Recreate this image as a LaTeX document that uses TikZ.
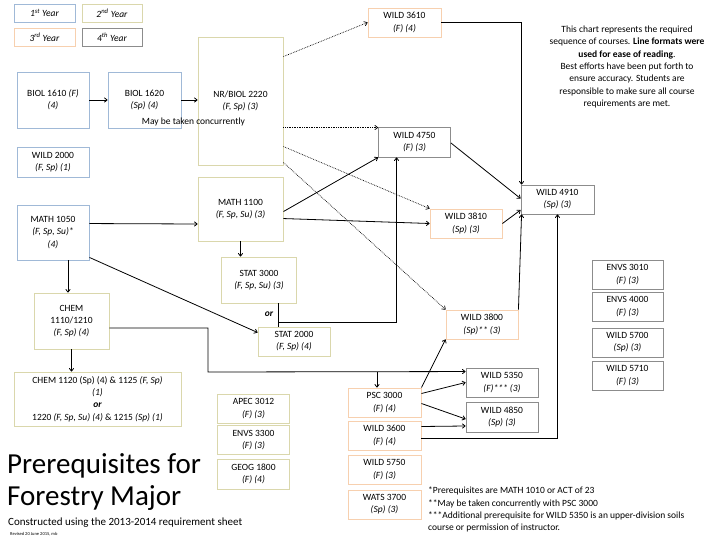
\documentclass[tikz,border=0pt]{standalone}
\usepackage{fontspec}
\setmainfont{Carlito}
\usetikzlibrary{calc,arrows.meta}
\definecolor{cone}{RGB}{160,185,215}
\definecolor{ctwo}{RGB}{218,215,172}
\definecolor{cthree}{RGB}{247,208,175}
\definecolor{cfour}{RGB}{140,140,140}
\begin{document}
\begin{tikzpicture}[x=1pt,y=-1pt,
  base/.style={draw, line width=0.9pt, inner sep=0pt, align=center,
    font=\fontsize{9.5}{12.3}\selectfont},
  yone/.style={base, draw=cone},
  ytwo/.style={base, draw=ctwo},
  ythree/.style={base, draw=cthree},
  yfour/.style={base, draw=cfour},
  sz/.style 2 args={minimum width=#1pt, minimum height=#2pt},
  conn/.style={line width=0.8pt, -{To[length=3.5pt,width=5pt]}},
  plain/.style={line width=0.8pt},
  dotconn/.style={line width=0.7pt, densely dotted, -{To[length=3.5pt,width=5pt]}},
  txt/.style={inner sep=0pt, font=\fontsize{9.5}{12.3}\selectfont}
]
\useasboundingbox (0,0) rectangle (720,540);
\fill[white] (0,0) rectangle (720,540);

% legend
\node[yone, sz={61}{18}] (lg1) at (44.5,13) {\textit{1\textsuperscript{st} Year}};
\node[ytwo, sz={60}{18}] (lg2) at (112,13) {\textit{2\textsuperscript{nd} Year}};
\node[ythree, sz={61}{18}] (lg3) at (44.5,37) {\textit{3\textsuperscript{rd} Year}};
\node[yfour, sz={60}{18}] (lg4) at (112,37) {\textit{4\textsuperscript{th} Year}};

% first year
\node[yone, sz={72}{56}] (biola) at (53,100) {BIOL 1610 \textit{(F)}\\\textit{(4)}};
\node[yone, sz={73}{56}] (biolb) at (144.5,100) {BIOL 1620\\\textit{(Sp) (4)}};
\node[yone, sz={72}{30}] (wildtwo) at (53,162) {WILD 2000\\\textit{(F, Sp) (1)}};
\node[yone, sz={72}{55}] (matha) at (53,232.5) {MATH 1050\\\textit{(F, Sp, Su)*}\\\textit{(4)}};

% second year
\node[ytwo, sz={85}{128}] (nrbiol) at (240.5,101) {NR/BIOL 2220\\\textit{(F, Sp) (3)}};
\node[txt] (conc) at (193.5,122) {May be taken concurrently};
\node[ytwo, sz={85}{64}] (mathb) at (240.5,209) {MATH 1100\\\textit{(F, Sp, Su) (3)}};
\node[ytwo, sz={75}{46}] (stat3) at (259,280) {STAT 3000\\\textit{(F, Sp, Su) (3)}};
\node[ytwo, sz={75}{56}] (chema) at (71.5,321) {CHEM\\1110/1210\\\textit{(F, Sp) (4)}};
\node[ytwo, sz={72}{29}] (stat2) at (294,341.5) {STAT 2000\\\textit{(F, Sp) (4)}};
\node[ytwo, sz={167}{54}] (chemb) at (97.5,399) {CHEM 1120 (Sp) (4) \& 1125 \textit{(F, Sp)}\\\textit{(1)}\\\textbf{\textit{or}}\\1220 \textit{(F, Sp, Su) (4)} \& 1215 \textit{(Sp) (1)}};
\node[ytwo, sz={72}{29}] (apec) at (253.5,408.5) {APEC 3012\\\textit{(F) (3)}};
\node[ytwo, sz={72}{29}] (envsc) at (253.5,440) {ENVS 3300\\\textit{(F) (3)}};
\node[ytwo, sz={72}{30}] (geog) at (253.5,474) {GEOG 1800\\\textit{(F) (4)}};

% third year
\node[ythree, sz={73}{29}] (wa) at (404.5,22.5) {WILD 3610\\\textit{(F) (4)}};
\node[ythree, sz={72}{29}] (wc) at (466,223.5) {WILD 3810\\\textit{(Sp) (3)}};
\node[ythree, sz={72}{29}] (wd) at (482,324.5) {WILD 3800\\\textit{(Sp)** (3)}};
\node[ythree, sz={73}{29}] (psc) at (384.5,402.5) {PSC 3000\\\textit{(F) (4)}};
\node[ythree, sz={73}{29}] (we) at (384.5,435.5) {WILD 3600\\\textit{(F) (4)}};
\node[ythree, sz={73}{29}] (wf) at (384.5,469.5) {WILD 5750\\\textit{(F) (3)}};
\node[ythree, sz={73}{29}] (wats) at (384.5,504.5) {WATS 3700\\\textit{(Sp) (3)}};

% fourth year
\node[yfour, sz={72}{30}] (wb) at (414.5,142) {WILD 4750\\\textit{(F) (3)}};
\node[yfour, sz={73}{29}] (wg) at (557.5,199.5) {WILD 4910\\\textit{(Sp) (3)}};
\node[yfour, sz={71}{29}] (envsa) at (627.5,274.5) {ENVS 3010\\\textit{(F) (3)}};
\node[yfour, sz={71}{29}] (envsb) at (627.5,306.5) {ENVS 4000\\\textit{(F) (3)}};
\node[yfour, sz={71}{29}] (wh) at (627.5,342.5) {WILD 5700\\\textit{(Sp) (3)}};
\node[yfour, sz={71}{29}] (wi) at (627.5,375.5) {WILD 5710\\\textit{(F) (3)}};
\node[yfour, sz={72}{29}] (wj) at (502,382.5) {WILD 5350\\\textit{(F)*** (3)}};
\node[yfour, sz={72}{30}] (wk) at (502,417) {WILD 4850\\\textit{(Sp) (3)}};

% connectors
\draw[conn] (biola.east) -- (biolb.west);
\draw[conn] (biolb.east) -- (biolb.east -| nrbiol.west);
\draw[dotconn] ($(nrbiol.north east)+(0,20)$) -- (wa.west);
\draw[dotconn] ($(nrbiol.north east)+(0,91)$) -- ($(wb.north west)+(0,1)$);
\draw[dotconn] ($(nrbiol.north east)+(0,110)$) -- (wc.north west);
\draw[dotconn] ($(nrbiol.north east)+(0,126)$) -- (wd.north west);

\draw[conn] ($(matha.north east)+(0,19)$) -- ($(mathb.west)+(0,15)$);
\draw[conn] (matha.south -| 68,0) -- (chema.north -| 68,0);
\draw[conn] ($(matha.south east)+(0,-3)$) -- ($(stat2.west)+(0,-9)$);
\draw[conn] (mathb.south) -- (mathb.south |- stat3.north);
\draw[conn] ($(mathb.north east)+(0,35)$) -- (wb.south west);
\draw[conn] ($(mathb.north east)+(0,42)$) -- (wc.west);

\coordinate (orj) at (278,322);
\draw[plain] (stat3.south -| orj) -- (stat2.north -| orj);
\draw[conn] (orj) -| ($(wb.south west)+(18.5,0)$);
\node[txt, font=\fontsize{9.5}{12}\selectfont\bfseries\itshape] (orlbl) at (269,314) {or};

\coordinate (ja) at (208,372);
\coordinate (jb) at (377,372);
\draw[conn] ($(chema.east)+(0,7)$) -| (ja) -- ($(wj.north west)+(0,4)$);
\draw[conn] (jb) -- (jb |- psc.north);
\draw[conn] (chema.south) -- (chema.south |- chemb.north);

\draw[conn] (psc.north east) -- (wd.south west);
\draw[conn] ($(psc.east)+(0,-9)$) -- (wj.west);
\draw[conn] ($(psc.east)+(0,1)$) -- ($(wk.west)+(0,2)$);
\draw[conn] ($(we.east)+(0,-9)$) -- ($(wk.west)+(0,9)$);
\draw[conn] ($(we.east)+(0,3)$) -| (wg.south);
\draw[conn] (wa.east) -| ($(wg.north west)+(1,0)$);
\draw[conn] ($(wb.east)+(0,1)$) -- ($(wg.west)+(0,-1)$);
\draw[conn] (wc.east) -- ($(wg.west)+(0,10.5)$);
\draw[conn] (wd.north east) -- ($(wg.south west)+(1,0)$);

% texts
\node[txt, align=center] (note) at (627,67) {This chart represents the required\\sequence of courses. \textbf{Line formats were}\\\textbf{used for ease of reading}.\\Best efforts have been put forth to\\ensure accuracy. Students are\\responsible to make sure all course\\requirements are met.};

\node[txt, anchor=north west, align=left] (foot) at (428,487) {*Prerequisites are MATH 1010 or ACT of 23\\**May be taken concurrently with PSC 3000\\***Additional prerequisite for WILD 5350 is an upper-division soils\\course or permission of instructor.};

\node[inner sep=0pt, anchor=base west, font=\fontsize{29}{30}\selectfont] (ta) at (7,473) {Prerequisites for};
\node[inner sep=0pt, anchor=base west, font=\fontsize{29}{30}\selectfont] (tb) at (7,505) {Forestry Major};
\node[inner sep=0pt, anchor=base west, font=\fontsize{11}{12}\selectfont] (tc) at (8,525) {Constructed using the 2013-2014 requirement sheet};
\node[inner sep=0pt, anchor=base west, font=\fontsize{4.5}{5}\selectfont] (td) at (10,535) {Revised 20 June 2015, mb};
\end{tikzpicture}
\end{document}
